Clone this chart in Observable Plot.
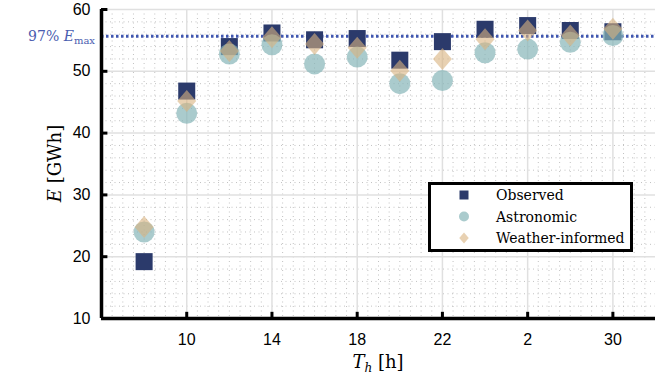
<!DOCTYPE html>
<html><head><meta charset="utf-8">
<script src="https://cdn.jsdelivr.net/npm/d3@7"></script>
<script src="https://cdn.jsdelivr.net/npm/@observablehq/plot@0.6"></script>
<style>
body{margin:0;background:#fff;}
#wrap{position:relative;width:671px;height:378px;}
</style></head><body><div id="wrap"></div>
<script>
// ---- data ----
const categories = [8, 10, 12, 14, 16, 18, 20, 22, 24, 26, 28, 30];
const observed = [19.2, 46.8, 54.0, 56.2, 55.1, 55.3, 51.8, 54.8, 56.8, 57.4, 56.6, 56.4];
const astronomic = [24.0, 43.2, 52.8, 54.3, 51.2, 52.3, 48.0, 48.5, 53.0, 53.6, 54.7, 55.8];
const weatherInformed = [24.8, 45.2, 53.3, 55.5, 54.4, 53.8, 50.1, 52.0, 55.2, 56.6, 55.8, 56.9];
const seriesNames = ["Observed", "Astronomic", "Weather-informed"];
const xTickValues = [10, 14, 18, 22, 26, 30];
const xTickLabels = ["10", "14", "18", "22", "2", "30"];
const yTickValues = [10, 20, 30, 40, 50, 60];
const thresholdFraction = 0.97;

// ---- derived ----
const xDomain = [6, 32];
const yDomain = [10, 60];
const thresh = thresholdFraction * d3.max(observed);
const toRows = (vals) => categories.map((c, i) => ({x: c, y: vals[i]}));
const obsData = toRows(observed), astData = toRows(astronomic), wData = toRows(weatherInformed);
const minorY = d3.range(yDomain[0], yDomain[1] + 0.001, 2).filter(v => !yTickValues.includes(v));
const minorX = d3.range(xDomain[0] + 0.5, xDomain[1], 0.5).filter(v => !xTickValues.includes(v));
const labelOf = new Map(xTickValues.map((v, i) => [v, xTickLabels[i]]));

const diamondSym = {draw(ctx, size) {
  const r = Math.sqrt(size / Math.PI), h = r * 1.1, w = r * 0.95;
  ctx.moveTo(0, -h); ctx.lineTo(w, 0); ctx.lineTo(0, h); ctx.lineTo(-w, 0); ctx.closePath();
}};

const colObs = "#2b3a6b", colAst = "#86b5b8", colW = "#d8b27e";
const opAst = 0.7, opW = 0.6;

const chart = Plot.plot({
  width: 671, height: 378,
  marginLeft: 101, marginRight: 16, marginTop: 9, marginBottom: 60,
  x: {domain: xDomain}, y: {domain: yDomain},
  style: {fontFamily: "Liberation Sans, Arial, sans-serif", fontSize: "16px", color: "#000", background: "#fff"},
  marks: [
    Plot.ruleY(minorY, {stroke: "#c2c2c2", strokeDasharray: "1,3.5"}),
    Plot.ruleX(minorX, {stroke: "#c2c2c2", strokeDasharray: "1,3.5"}),
    Plot.ruleY(yTickValues, {stroke: "#e0e0e0", strokeWidth: 1.5}),
    Plot.ruleX(xTickValues, {stroke: "#e0e0e0", strokeWidth: 1.5}),
    Plot.ruleY([thresh], {stroke: "#3f56b0", strokeWidth: 3, strokeDasharray: "2.5,2.5"}),
    Plot.dot(obsData, {x: "x", y: "y", symbol: "square", r: 9.6, fill: colObs, stroke: null}),
    Plot.dot(astData, {x: "x", y: "y", symbol: "circle", r: 10.5, fill: colAst, fillOpacity: opAst, stroke: null}),
    Plot.dot(wData, {x: "x", y: "y", symbol: diamondSym, r: 10, fill: colW, fillOpacity: opW, stroke: null}),
    Plot.axisY({ticks: yTickValues, tickSize: 0, tickPadding: 11, label: null}),
    Plot.axisX({ticks: xTickValues, tickFormat: d => labelOf.get(d), tickSize: 0, tickPadding: 15, label: null}),
    Plot.ruleY(yTickValues, {x1: xDomain[0], x2: xDomain[0] + 0.3, strokeWidth: 3, stroke: "#000"}),
    Plot.ruleX(xTickValues, {y1: yDomain[0], y2: yDomain[0] + 1, strokeWidth: 3, stroke: "#000"}),
    Plot.ruleX([xDomain[0]], {strokeWidth: 3.5, stroke: "#000"}),
    Plot.ruleY([yDomain[0]], {strokeWidth: 3.5, stroke: "#000"})
  ]
});
document.getElementById("wrap").appendChild(chart);

const svg = d3.select(chart);
const ys = chart.scale("y"), xs = chart.scale("x");
const serif = "'DejaVu Serif', 'Liberation Serif', serif";

// 97% E_max label
const t97 = svg.append("text").attr("x", xs.range[0] - 6).attr("y", ys.apply(thresh) + 5)
  .attr("text-anchor", "end").attr("fill", "#4a5db0").style("font-family", serif).style("font-size", "14px");
t97.append("tspan").text(Math.round(thresholdFraction * 100) + "% ");
t97.append("tspan").style("font-style", "italic").text("E");
t97.append("tspan").attr("dy", 3).style("font-size", "10px").text("max");

// y title
const yt = svg.append("text").attr("transform", `translate(61,${(ys.range[0] + ys.range[1]) / 2}) rotate(-90)`)
  .attr("text-anchor", "middle").style("font-family", serif).style("font-size", "18px").attr("fill", "#000");
yt.append("tspan").style("font-style", "italic").text("E");
yt.append("tspan").text(" [GWh]");

// x title
const xt = svg.append("text").attr("x", (xs.range[0] + xs.range[1]) / 2).attr("y", 368)
  .attr("text-anchor", "middle").style("font-family", serif).style("font-size", "18px").attr("fill", "#000");
xt.append("tspan").style("font-style", "italic").text("T");
xt.append("tspan").style("font-style", "italic").style("font-size", "12px").attr("dy", 4).text("h");
xt.append("tspan").attr("dy", -4).text(" [h]");

// legend
const lg = svg.append("g").attr("transform", "translate(428,182)");
lg.append("rect").attr("x", 1.5).attr("y", 1.5).attr("width", 202).attr("height", 67)
  .attr("fill", "#fff").attr("stroke", "#000").attr("stroke-width", 3);
const legendSpecs = [
  {sym: d3.symbolSquare, size: 81, fill: colObs, op: 1},
  {sym: d3.symbolCircle, size: Math.PI * 25, fill: colAst, op: opAst},
  {sym: diamondSym, size: Math.PI * 25, fill: colW, op: opW}
];
seriesNames.forEach((name, i) => {
  const cy = 13 + i * 21.5;
  lg.append("path").attr("d", d3.symbol(legendSpecs[i].sym, legendSpecs[i].size)())
    .attr("transform", `translate(36,${cy})`).attr("fill", legendSpecs[i].fill).attr("fill-opacity", legendSpecs[i].op);
  lg.append("text").attr("x", 68).attr("y", cy + 5).attr("text-anchor", "start")
    .style("font-family", serif).style("font-size", "14px").attr("fill", "#000").text(name);
});
</script></body></html>
